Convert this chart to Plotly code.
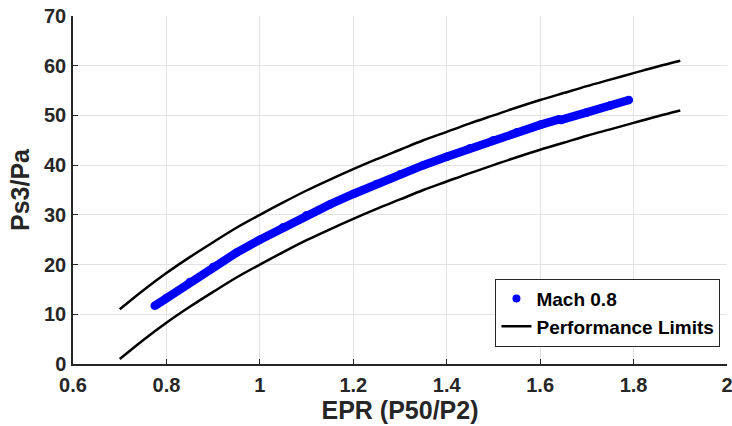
import plotly.graph_objects as go

# Performance limit curves
limit_x = [0.70, 0.75, 0.80, 0.85, 0.90, 0.95, 1.00, 1.05, 1.10, 1.15, 1.20, 1.25, 1.30,
           1.35, 1.40, 1.45, 1.50, 1.55, 1.60, 1.65, 1.70, 1.75, 1.80, 1.85, 1.90]
upper_y = [11.0, 14.8, 18.3, 21.5, 24.5, 27.4, 30.0, 32.5, 34.9, 37.1, 39.2, 41.2, 43.1,
           45.0, 46.7, 48.4, 50.0, 51.6, 53.1, 54.5, 55.9, 57.2, 58.5, 59.8, 61.0]
lower_y = [1.0, 4.8, 8.3, 11.5, 14.5, 17.4, 20.0, 22.5, 24.9, 27.1, 29.2, 31.2, 33.1,
           35.0, 36.7, 38.4, 40.0, 41.6, 43.1, 44.5, 45.9, 47.2, 48.5, 49.8, 51.0]

# Mach 0.8 measurements
mach_x = [0.775, 0.80, 0.85, 0.90, 0.95, 1.00, 1.05, 1.10, 1.15, 1.20, 1.25, 1.30, 1.35,
          1.40, 1.45, 1.50, 1.55, 1.60, 1.64, 1.645, 1.70, 1.75, 1.79]
mach_y = [11.7, 13.3, 16.5, 19.5, 22.4, 25.0, 27.5, 29.9, 32.1, 34.2, 36.2, 38.1, 40.0,
          41.7, 43.4, 45.0, 46.6, 48.1, 49.2, 49.1, 50.6, 52.0, 53.1]

x_ticks = [0.6, 0.8, 1.0, 1.2, 1.4, 1.6, 1.8, 2.0]
x_tick_labels = ["0.6", "0.8", "1", "1.2", "1.4", "1.6", "1.8", "2"]
y_ticks = [0, 10, 20, 30, 40, 50, 60, 70]

FONT = "Liberation Sans, Arial, sans-serif"
AXC = "#262626"

fig = go.Figure()

fig.add_trace(go.Scatter(x=mach_x, y=mach_y, mode="lines+markers",
                         line=dict(color="#0000ff", width=8.5),
                         marker=dict(color="#0000ff", size=8.5),
                         showlegend=False, hoverinfo="skip"))
fig.add_trace(go.Scatter(x=[None], y=[None], mode="markers", name="Mach 0.8",
                         marker=dict(color="#0000ff", size=8)))
fig.add_trace(go.Scatter(x=limit_x, y=upper_y, mode="lines", name="Performance Limits",
                         line=dict(color="black", width=2.5, shape="spline"),
                         legendgroup="lim"))
fig.add_trace(go.Scatter(x=limit_x, y=lower_y, mode="lines", name="Performance Limits",
                         line=dict(color="black", width=2.5, shape="spline"),
                         legendgroup="lim", showlegend=False))

fig.update_layout(
    width=732, height=426,
    margin=dict(l=73, r=5, t=16, b=62, autoexpand=False),
    paper_bgcolor="white", plot_bgcolor="white",
    font=dict(family=FONT, color=AXC, size=20),
    legend=dict(x=0.99, y=0.05, xanchor="right", yanchor="bottom",
                bgcolor="white", bordercolor=AXC, borderwidth=1,
                font=dict(family=FONT, size=19, color="black", weight="bold"),
                tracegroupgap=0, itemwidth=30),
    xaxis=dict(range=[0.6, 2.0], tickvals=x_ticks, ticktext=x_tick_labels,
               automargin=False, ticklabeloverflow="allow",
               showgrid=True, gridcolor="#e3e3e3", gridwidth=1,
               showline=True, linecolor=AXC, linewidth=1.5,
               ticks="inside", ticklen=5, tickcolor=AXC, ticklabelstandoff=2,
               tickfont=dict(family=FONT, size=20, color=AXC, weight="bold"),
               zeroline=False,
               title=dict(text="<b>EPR (P50/P2)</b>", font=dict(family=FONT, size=25, color=AXC),
                          standoff=6)),
    yaxis=dict(range=[0, 70], tickvals=y_ticks,
               automargin=False, ticklabeloverflow="allow",
               showgrid=True, gridcolor="#e3e3e3", gridwidth=1,
               showline=True, linecolor=AXC, linewidth=1.5,
               ticks="inside", ticklen=5, tickcolor=AXC, ticklabelstandoff=1,
               tickfont=dict(family=FONT, size=20, color=AXC, weight="bold"),
               zeroline=False,
               title=dict(text="<b>Ps3/Pa</b>", font=dict(family=FONT, size=25, color=AXC),
                          standoff=7)),
)

fig.write_html("out.html", config={"displayModeBar": False},
               post_script="document.body.style.margin='0';document.body.style.overflow='hidden';")
